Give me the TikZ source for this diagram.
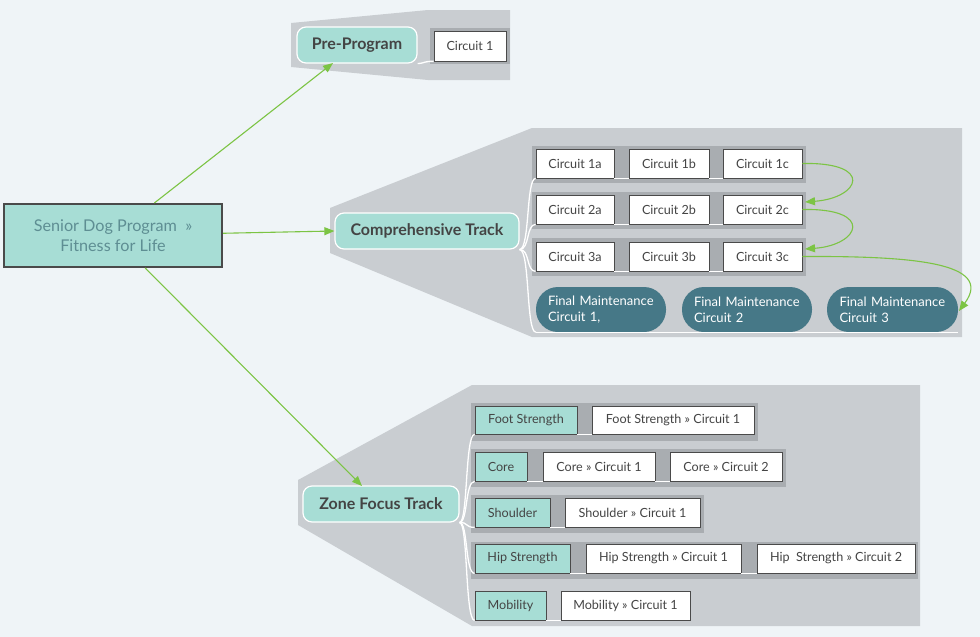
\documentclass[tikz,border=0pt]{standalone}
\usepackage{fontspec}
\setmainfont{Lato}
\usetikzlibrary{calc,arrows.meta}
\definecolor{bgc}{HTML}{EFF4F7}
\definecolor{grp}{HTML}{C9CDD1}
\definecolor{strip}{HTML}{A9ADB1}
\definecolor{tealc}{HTML}{A7DDD5}
\definecolor{pillc}{HTML}{467887}
\definecolor{greenc}{HTML}{7CC444}
\definecolor{txt}{HTML}{444444}
\definecolor{roottxt}{HTML}{5E8E93}
\definecolor{bordc}{HTML}{4A4A4A}
\tikzset{
  rootbox/.style={draw=bordc,line width=2pt,fill=tealc,minimum width=218pt,minimum height=63pt,inner sep=0pt,align=center,text=roottxt,font=\fontsize{16.2}{20}\selectfont},
  topic/.style={draw=white,line width=1.2pt,fill=tealc,rounded corners=9pt,minimum height=36pt,inner sep=0pt,text=txt,font=\fontsize{16}{18}\selectfont\bfseries},
  wbox/.style={draw=bordc,line width=0.8pt,fill=white,minimum height=29pt,inner sep=0pt,text=txt,font=\fontsize{12.6}{14}\selectfont},
  tbox/.style={draw=bordc,line width=0.8pt,fill=tealc,minimum height=29pt,inner sep=0pt,text=txt,font=\fontsize{12.6}{14}\selectfont},
  pill/.style={fill=pillc,rounded corners=22pt,minimum height=45pt,minimum width=130pt,inner sep=0pt,text width=106pt,text=white,align=left,font=\fontsize{13}{16}\selectfont},
  tree/.style={draw=white,line width=1.3pt},
  garrow/.style={draw=greenc,line width=1.1pt,-{Triangle[length=10pt,width=8pt]}},
}
\begin{document}
\begin{tikzpicture}[x=1pt,y=-1pt]
\fill[bgc] (0,0) rectangle (980,637);
\useasboundingbox (0,0) rectangle (980,637);
% group backgrounds
\fill[grp] (291,23) -- (428,10) -- (510,10) -- (510,80) -- (428,80) -- (291,67) -- cycle;
\fill[grp] (330,208) -- (532,128) -- (962,128) -- (962,337) -- (532,337) -- (330,253) -- cycle;
\fill[grp] (298,480) -- (472,385) -- (920,385) -- (920,626) -- (472,626) -- (298,525) -- cycle;
% strips
\fill[strip] (430,28) rectangle (510,64);
\fill[strip] (532,146) rectangle (806,183);
\fill[strip] (532,192) rectangle (806,229);
\fill[strip] (532,238) rectangle (806,276);
\fill[strip] (471,403) rectangle (758,441);
\fill[strip] (471,449) rectangle (786,487);
\fill[strip] (471,495) rectangle (704,533);
\fill[strip] (471,542) rectangle (918,579);

% root
\node[rootbox] (root) at (113,235.5) {Senior Dog Program \ »\\Fitness for Life};

% pre-program
\node[topic,minimum width=120pt] (pre) at (357,45) {Pre-Program};
\node[wbox,minimum width=72pt,minimum height=30pt] (pc1) at (470,46) {Circuit 1};

% comprehensive
\node[topic,minimum width=184pt] (comp) at (427,231) {Comprehensive Track};
\node[wbox,minimum width=78pt] (c1a) at (575,163.5) {Circuit 1a};
\node[wbox,minimum width=80pt] (c1b) at (669,163.5) {Circuit 1b};
\node[wbox,minimum width=79pt] (c1c) at (762.5,163.5) {Circuit 1c};
\node[wbox,minimum width=78pt] (c2a) at (575,209.5) {Circuit 2a};
\node[wbox,minimum width=80pt] (c2b) at (669,209.5) {Circuit 2b};
\node[wbox,minimum width=79pt] (c2c) at (762.5,209.5) {Circuit 2c};
\node[wbox,minimum width=78pt] (c3a) at (575,256.5) {Circuit 3a};
\node[wbox,minimum width=80pt] (c3b) at (669,256.5) {Circuit 3b};
\node[wbox,minimum width=79pt] (c3c) at (762.5,256.5) {Circuit 3c};
\node[pill] (p1) at (601,309.5) {Final Maintenance\\Circuit 1,};
\node[pill] (p2) at (747,309.5) {Final Maintenance\\Circuit 2};
\node[pill,minimum width=131pt] (p3) at (892.5,309.5) {Final Maintenance\\Circuit 3};

% zone focus
\node[topic,minimum width=156pt] (zone) at (381,504) {Zone Focus Track};
\node[tbox,minimum width=102pt,minimum height=28pt] (fs) at (526,420) {Foot Strength};
\node[wbox,minimum width=162pt,minimum height=28pt] (fs1) at (673,420) {Foot Strength » Circuit 1};
\node[tbox,minimum width=52pt] (co) at (501,466.5) {Core};
\node[wbox,minimum width=112pt] (co1) at (599,466.5) {Core » Circuit 1};
\node[wbox,minimum width=112pt] (co2) at (726,466.5) {Core » Circuit 2};
\node[tbox,minimum width=75pt] (sh) at (512.5,512.5) {Shoulder};
\node[wbox,minimum width=135pt] (sh1) at (632.5,512.5) {Shoulder » Circuit 1};
\node[tbox,minimum width=95pt] (hs) at (522.5,558.5) {Hip Strength};
\node[wbox,minimum width=155pt] (hs1) at (663.5,558.5) {Hip Strength » Circuit 1};
\node[wbox,minimum width=158pt] (hs2) at (836,558.5) {Hip\ \ Strength » Circuit 2};
\node[tbox,minimum width=71pt] (mo) at (510.5,605.5) {Mobility};
\node[wbox,minimum width=129pt] (mo1) at (625.5,605.5) {Mobility » Circuit 1};

% white tree connectors
\draw[tree] (pre.south east) .. controls (426,63) and (424,61) .. (pc1.south west);
\foreach \t in {c1a,c2a,c3a,p1}{
  \draw[tree] (comp.south east) .. controls (530,249) and (526,0 |- \t.south) .. (\t.south west);
}
\draw[tree] (c1a.south east) -- (c1b.south west) (c1b.south east) -- (c1c.south west);
\draw[tree] (c2a.south east) -- (c2b.south west) (c2b.south east) -- (c2c.south west);
\draw[tree] (c3a.south east) -- (c3b.south west) (c3b.south east) -- (c3c.south west);
\draw[tree] (p1.south west) -- (p3.south east);
\foreach \t in {fs,co,sh,hs,mo}{
  \draw[tree] (zone.south east) .. controls (468,522) and (465,0 |- \t.south) .. (\t.south west);
}
\draw[tree] (fs.south east) -- (fs1.south west);
\draw[tree] (co.south east) -- (co1.south west) (co1.south east) -- (co2.south west);
\draw[tree] (sh.south east) -- (sh1.south west);
\draw[tree] (hs.south east) -- (hs1.south west) (hs1.south east) -- (hs2.south west);
\draw[tree] (mo.south east) -- (mo1.south west);

% green arrows
\coordinate (preIn) at (333,63);
\coordinate (zoneIn) at (362,486);
\draw[garrow] (root) -- (preIn);
\draw[garrow] (root) -- (comp.west);
\draw[garrow] (root) -- (zoneIn);
\coordinate (in2) at (805,202);
\coordinate (in3) at (805,249);
\coordinate (inp) at (959,311);
\draw[garrow] (c1c.east) .. controls (875,162) and (860,198) .. (in2);
\draw[garrow] (c2c.east) .. controls (875,208) and (860,245) .. (in3);
\draw[garrow] (c3c.east) .. controls (910,256) and (995,262) .. (inp);
\end{tikzpicture}
\end{document}
